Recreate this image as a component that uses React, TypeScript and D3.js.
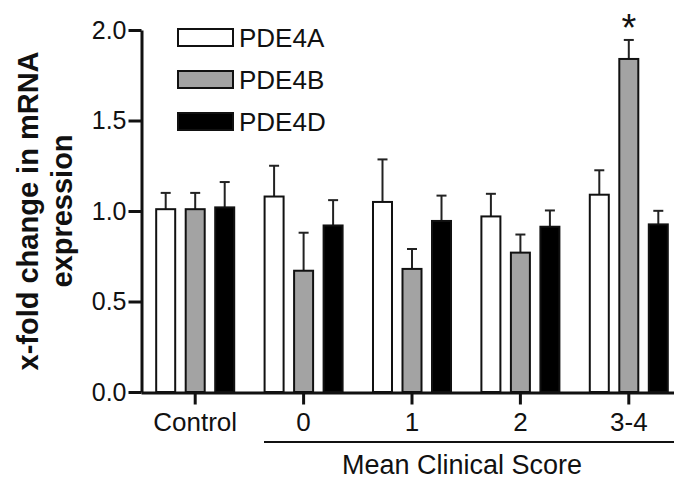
import { useEffect, useRef } from "react";
import * as d3 from "d3";

const categories = ["Control", "0", "1", "2", "3-4"];
const series = ["PDE4A", "PDE4B", "PDE4D"];
const pde4a = [1.01, 1.08, 1.05, 0.97, 1.09];
const pde4aErr = [0.09, 0.17, 0.235, 0.125, 0.135];
const pde4b = [1.01, 0.67, 0.68, 0.77, 1.84];
const pde4bErr = [0.09, 0.21, 0.11, 0.1, 0.105];
const pde4d = [1.02, 0.92, 0.945, 0.913, 0.926];
const pde4dErr = [0.14, 0.14, 0.14, 0.09, 0.075];
const yTicks = [0, 0.5, 1.0, 1.5, 2.0];
const significant = ["3-4"];

const fills = ["#ffffff", "#a3a3a3", "#000000"];

export default function App() {
  const ref = useRef<SVGSVGElement>(null);

  useEffect(() => {
    if (!ref.current) return;
    const svg = d3.select(ref.current);
    svg.selectAll("*").remove();

    const font = "'Liberation Sans', Arial, sans-serif";
    const values = [pde4a, pde4b, pde4d];
    const errs = [pde4aErr, pde4bErr, pde4dErr];

    const x0 = d3.scaleBand<string>().domain(categories).range([141, 683]);
    const x1 = d3
      .scaleBand<string>()
      .domain(series)
      .range([0, x0.bandwidth()])
      .paddingInner(0.356)
      .paddingOuter(0.515);
    const y = d3.scaleLinear().domain([0, 2]).range([392, 30]);

    const rows = categories.flatMap((c, i) =>
      series.map((s, j) => ({ c, s, j, v: values[j][i], e: errs[j][i] }))
    );

    // error bars (upper only)
    const eb = svg.append("g").attr("stroke", "#222").attr("stroke-width", 2);
    rows.forEach((d) => {
      const cx = x0(d.c)! + x1(d.s)! + x1.bandwidth() / 2;
      eb.append("line")
        .attr("x1", cx).attr("x2", cx)
        .attr("y1", y(d.v)).attr("y2", y(d.v + d.e));
      eb.append("line")
        .attr("x1", cx - 5).attr("x2", cx + 5)
        .attr("y1", y(d.v + d.e)).attr("y2", y(d.v + d.e));
    });

    svg.append("g")
      .selectAll("rect")
      .data(rows)
      .join("rect")
      .attr("x", (d) => x0(d.c)! + x1(d.s)!)
      .attr("width", x1.bandwidth())
      .attr("y", (d) => y(d.v))
      .attr("height", (d) => y(0) - y(d.v))
      .attr("fill", (d) => fills[d.j])
      .attr("stroke", "#111")
      .attr("stroke-width", 2);

    // axes
    const yAxis = svg.append("g")
      .attr("transform", "translate(141.5,0)")
      .call(
        d3.axisLeft(y).tickValues(yTicks).tickFormat(d3.format(".1f")).tickSize(13).tickSizeOuter(0).tickPadding(2)
      );
    const xAxis = svg.append("g")
      .attr("transform", "translate(0,392.5)")
      .call(
        d3.axisBottom(x0).tickSize(12).tickSizeOuter(0).tickPadding(8)
      );
    [yAxis, xAxis].forEach((g) => {
      g.select(".domain").attr("stroke", "#111").attr("stroke-width", 3);
      g.selectAll(".tick line").attr("stroke", "#111").attr("stroke-width", 3);
      g.selectAll(".tick text")
        .attr("fill", "#111")
        .attr("font-family", font)
        .attr("font-size", 25);
    });
    xAxis.selectAll(".tick text").attr("font-size", 26);

    // significance star
    svg.append("g")
      .selectAll("text")
      .data(significant)
      .join("text")
      .attr("x", (c) => x0(c)! + x1("PDE4B")! + x1.bandwidth() / 2)
      .attr("y", 41)
      .attr("text-anchor", "middle")
      .attr("font-family", font)
      .attr("font-size", 38)
      .attr("fill", "#111")
      .text("*");

    // group line and label
    svg.append("line")
      .attr("x1", 264).attr("x2", 674)
      .attr("y1", 442).attr("y2", 442)
      .attr("stroke", "#111").attr("stroke-width", 2);
    svg.append("text")
      .attr("x", 462).attr("y", 474)
      .attr("text-anchor", "middle")
      .attr("font-family", font)
      .attr("font-size", 27)
      .attr("fill", "#111")
      .text("Mean Clinical Score");

    // y title
    const title = ["x-fold change in mRNA", "expression"];
    title.forEach((t, i) => {
      svg.append("text")
        .attr("transform", `translate(${38 + i * 34},211) rotate(-90)`)
        .attr("text-anchor", "middle")
        .attr("font-family", font)
        .attr("font-weight", "bold")
        .attr("font-size", 29)
        .attr("fill", "#111")
        .text(t);
    });

    // legend
    const lg = svg.append("g").attr("transform", "translate(178,29)");
    series.forEach((s, i) => {
      lg.append("rect")
        .attr("x", 0).attr("y", i * 42)
        .attr("width", 55).attr("height", 17)
        .attr("fill", fills[i])
        .attr("stroke", "#111").attr("stroke-width", 2);
      lg.append("text")
        .attr("x", 61).attr("y", i * 42 + 18)
        .attr("font-family", font)
        .attr("font-size", 26)
        .attr("fill", "#111")
        .text(s);
    });
  }, []);

  return (
    <svg
      ref={ref}
      width={674}
      height={479}
      style={{ position: "absolute", left: 0, top: 0, background: "#fff" }}
    />
  );
}
